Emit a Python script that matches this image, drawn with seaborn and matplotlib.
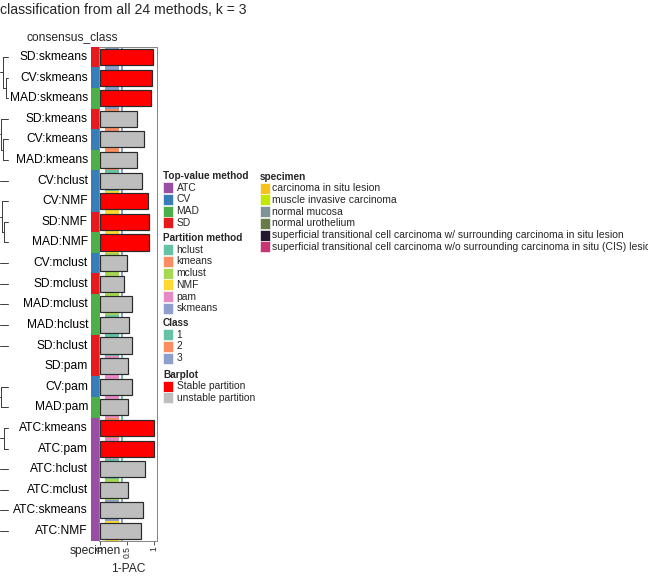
import numpy as np
import pandas as pd
import matplotlib
matplotlib.use("Agg")
import matplotlib.pyplot as plt
from matplotlib.colors import ListedColormap
from matplotlib.patches import Rectangle
import seaborn as sns

# ---------------- data ----------------
methods = ["SD:skmeans", "CV:skmeans", "MAD:skmeans", "SD:kmeans", "CV:kmeans",
           "MAD:kmeans", "CV:hclust", "CV:NMF", "SD:NMF", "MAD:NMF", "CV:mclust",
           "SD:mclust", "MAD:mclust", "MAD:hclust", "SD:hclust", "SD:pam", "CV:pam",
           "MAD:pam", "ATC:kmeans", "ATC:pam", "ATC:hclust", "ATC:mclust",
           "ATC:skmeans", "ATC:NMF"]
top_value = [m.split(":")[0] for m in methods]
partition = [m.split(":")[1] for m in methods]
one_minus_pac = [0.99, 0.97, 0.95, 0.69, 0.82, 0.69, 0.78, 0.89, 0.91, 0.90, 0.50,
                 0.44, 0.59, 0.54, 0.60, 0.51, 0.59, 0.52, 1.00, 1.00, 0.83, 0.52,
                 0.79, 0.75]
stability = ["Stable partition"] * 3 + ["unstable partition"] * 4 + \
            ["Stable partition"] * 3 + ["unstable partition"] * 8 + \
            ["Stable partition"] * 2 + ["unstable partition"] * 4
row_class = [3] * 15 + [1] * 7 + [3] * 2

top_levels = ["ATC", "CV", "MAD", "SD"]
top_colors = ["#984EA3", "#377EB8", "#4DAF4A", "#E41A1C"]
part_levels = ["hclust", "kmeans", "mclust", "NMF", "pam", "skmeans"]
part_colors = ["#66C2A5", "#FC8D62", "#A6D854", "#FFD92F", "#E78AC3", "#8DA0CB"]
class_levels = ["1", "2", "3"]
class_colors = ["#66C2A5", "#FC8D62", "#8DA0CB"]
bar_levels = ["Stable partition", "unstable partition"]
bar_colors = ["#FF0000", "#BEBEBE"]
specimen_levels = ["carcinoma in situ lesion", "muscle invasive carcinoma",
                   "normal mucosa", "normal urothelium",
                   "superficial transitional cell carcinoma w/ surrounding carcinoma in situ lesion",
                   "superficial transitional cell carcinoma w/o surrounding carcinoma in situ (CIS) lesion"]
specimen_colors = ["#F8C21E", "#C3E800", "#7E9395", "#6A7C45", "#221A2C", "#C93473"]

# dendrogram (nodes: (left, right, height); leaves are row indices)
dend_groups = [(0, (1, 2, 0.25), 0.6), (3, (4, 5, 0.65), 0.88),
               (7, (8, 9, 0.5), 0.72), (16, 17, 0.88), (18, 19, 0.5)]
dend_singles = [6, 10, 11, 12, 13, 14, 20, 21, 22, 23]

# ---------------- figure ----------------
sns.set_theme(style="white")
plt.rcParams["font.family"] = ["Liberation Sans", "DejaVu Sans"]
W, H = 648, 576
fig = plt.figure(figsize=(W / 72, H / 72), dpi=72)
fig.patch.set_facecolor("white")

Y0, Y1 = 46.7, 541.3
n = len(methods)


def px_axes(x0, y0, x1, y1, z=1):
    ax = fig.add_axes([x0 / W, 1 - y1 / H, (x1 - x0) / W, (y1 - y0) / H])
    ax.set_zorder(z)
    return ax


# dendrogram
ax_d = px_axes(0, Y0, 8, Y1)
ax_d.set_xlim(1.0, 0.0)
ax_d.set_ylim(n, 0)
ax_d.axis("off")
lc = "#404040"


def draw(node):
    if isinstance(node, int):
        return node + 0.5, 0.0
    yl, hl = draw(node[0])
    yr, hr = draw(node[1])
    h = node[2]
    ax_d.plot([hl, h], [yl, yl], color=lc, lw=1, clip_on=False)
    ax_d.plot([hr, h], [yr, yr], color=lc, lw=1, clip_on=False)
    ax_d.plot([h, h], [yl, yr], color=lc, lw=1, clip_on=False)
    return (yl + yr) / 2, h


for g in dend_groups:
    yc, h = draw(g)
    ax_d.plot([h, 1.0], [yc, yc], color=lc, lw=1, clip_on=False)
for s in dend_singles:
    ax_d.plot([0, 1.0], [s + 0.5, s + 0.5], color=lc, lw=1, clip_on=False)

# top-value method column with row labels
ax_t = px_axes(91, Y0, 100, Y1)
codes_t = np.array([[top_levels.index(t)] for t in top_value])
sns.heatmap(codes_t, ax=ax_t, cmap=ListedColormap(top_colors), vmin=-0.5,
            vmax=len(top_levels) - 0.5, cbar=False, xticklabels=False,
            yticklabels=methods)
ax_t.tick_params(axis="y", length=0, pad=3, labelsize=12, rotation=0)
for lab in ax_t.get_yticklabels():
    lab.set_color("black")

# partition method strip
ax_p = px_axes(105, Y0, 119, Y1)
codes_p = np.array([[part_levels.index(p)] for p in partition])
sns.heatmap(codes_p, ax=ax_p, cmap=ListedColormap(part_colors), vmin=-0.5,
            vmax=len(part_levels) - 0.5, cbar=False, xticklabels=False,
            yticklabels=False)

# class strip
ax_c = px_axes(121, Y0, 123, Y1)
codes_c = np.array([[c - 1] for c in row_class])
sns.heatmap(codes_c, ax=ax_c, cmap=ListedColormap(class_colors), vmin=-0.5,
            vmax=2.5, cbar=False, xticklabels=False, yticklabels=False)

# 1-PAC barplot
ax_b = px_axes(99, Y0, 157, Y1, z=3)
ax_b.patch.set_alpha(0)
df = pd.DataFrame({"method": methods, "pac": one_minus_pac, "stab": stability})
sns.barplot(data=df, x="pac", y="method", hue="stab", order=methods,
            hue_order=bar_levels, palette=dict(zip(bar_levels, bar_colors)),
            dodge=False, width=0.78, edgecolor="#2a2a2a", linewidth=1.2,
            saturation=1, legend=False, ax=ax_b)
ax_b.set_xlim(-1 / 54, 57 / 54)
ax_b.set_ylim(n - 0.5, -0.5)
ax_b.set_yticks([])
ax_b.set_ylabel("")
ax_b.set_xticks([0, 0.5, 1])
ax_b.set_xticklabels(["0", "0.5", "1"], rotation=90, fontsize=8.5)
ax_b.tick_params(axis="x", bottom=True, length=4, width=0.8, pad=1,
                 color="#333333")
ax_b.set_xlabel("1-PAC", fontsize=12, labelpad=5)
for sp in ax_b.spines.values():
    sp.set_visible(True)
    sp.set_color("#888888")
    sp.set_linewidth(1)

# overlay text / legends in pixel space
ov = fig.add_axes([0, 0, 1, 1])
ov.set_xlim(0, W)
ov.set_ylim(H, 0)
ov.axis("off")
ov.set_zorder(5)

ov.text(0, 10, "classification from all 24 methods, k = 3", fontsize=14,
        va="center", ha="left")
ov.text(72, 37, "consensus_class", fontsize=12, va="center", ha="center")
ov.text(121, 551, "specimen", fontsize=12, va="center", ha="right")


def legend_block(x, y_title, title, levels, colors, fs=10.3, tx=13.5):
    ov.text(x, y_title, title, fontsize=10, fontweight="bold", va="center",
            ha="left")
    for k, (lv, col) in enumerate(zip(levels, colors)):
        yc = y_title + 11.7 * (k + 1)
        ov.add_patch(Rectangle((x, yc - 5.5), 10, 11, facecolor=col,
                               edgecolor="white", lw=0.6))
        ov.text(x + tx, yc, lv, fontsize=fs, va="center", ha="left")


legend_block(163, 176, "Top-value method", top_levels, top_colors)
legend_block(163, 238, "Partition method", part_levels, part_colors)
legend_block(163, 323, "Class", class_levels, class_colors)
legend_block(163, 374.5, "Barplot", bar_levels, bar_colors, tx=14)
legend_block(260, 176.5, "specimen", specimen_levels, specimen_colors, fs=10.4,
             tx=12)

fig.savefig("out.png", dpi=72, facecolor="white")
